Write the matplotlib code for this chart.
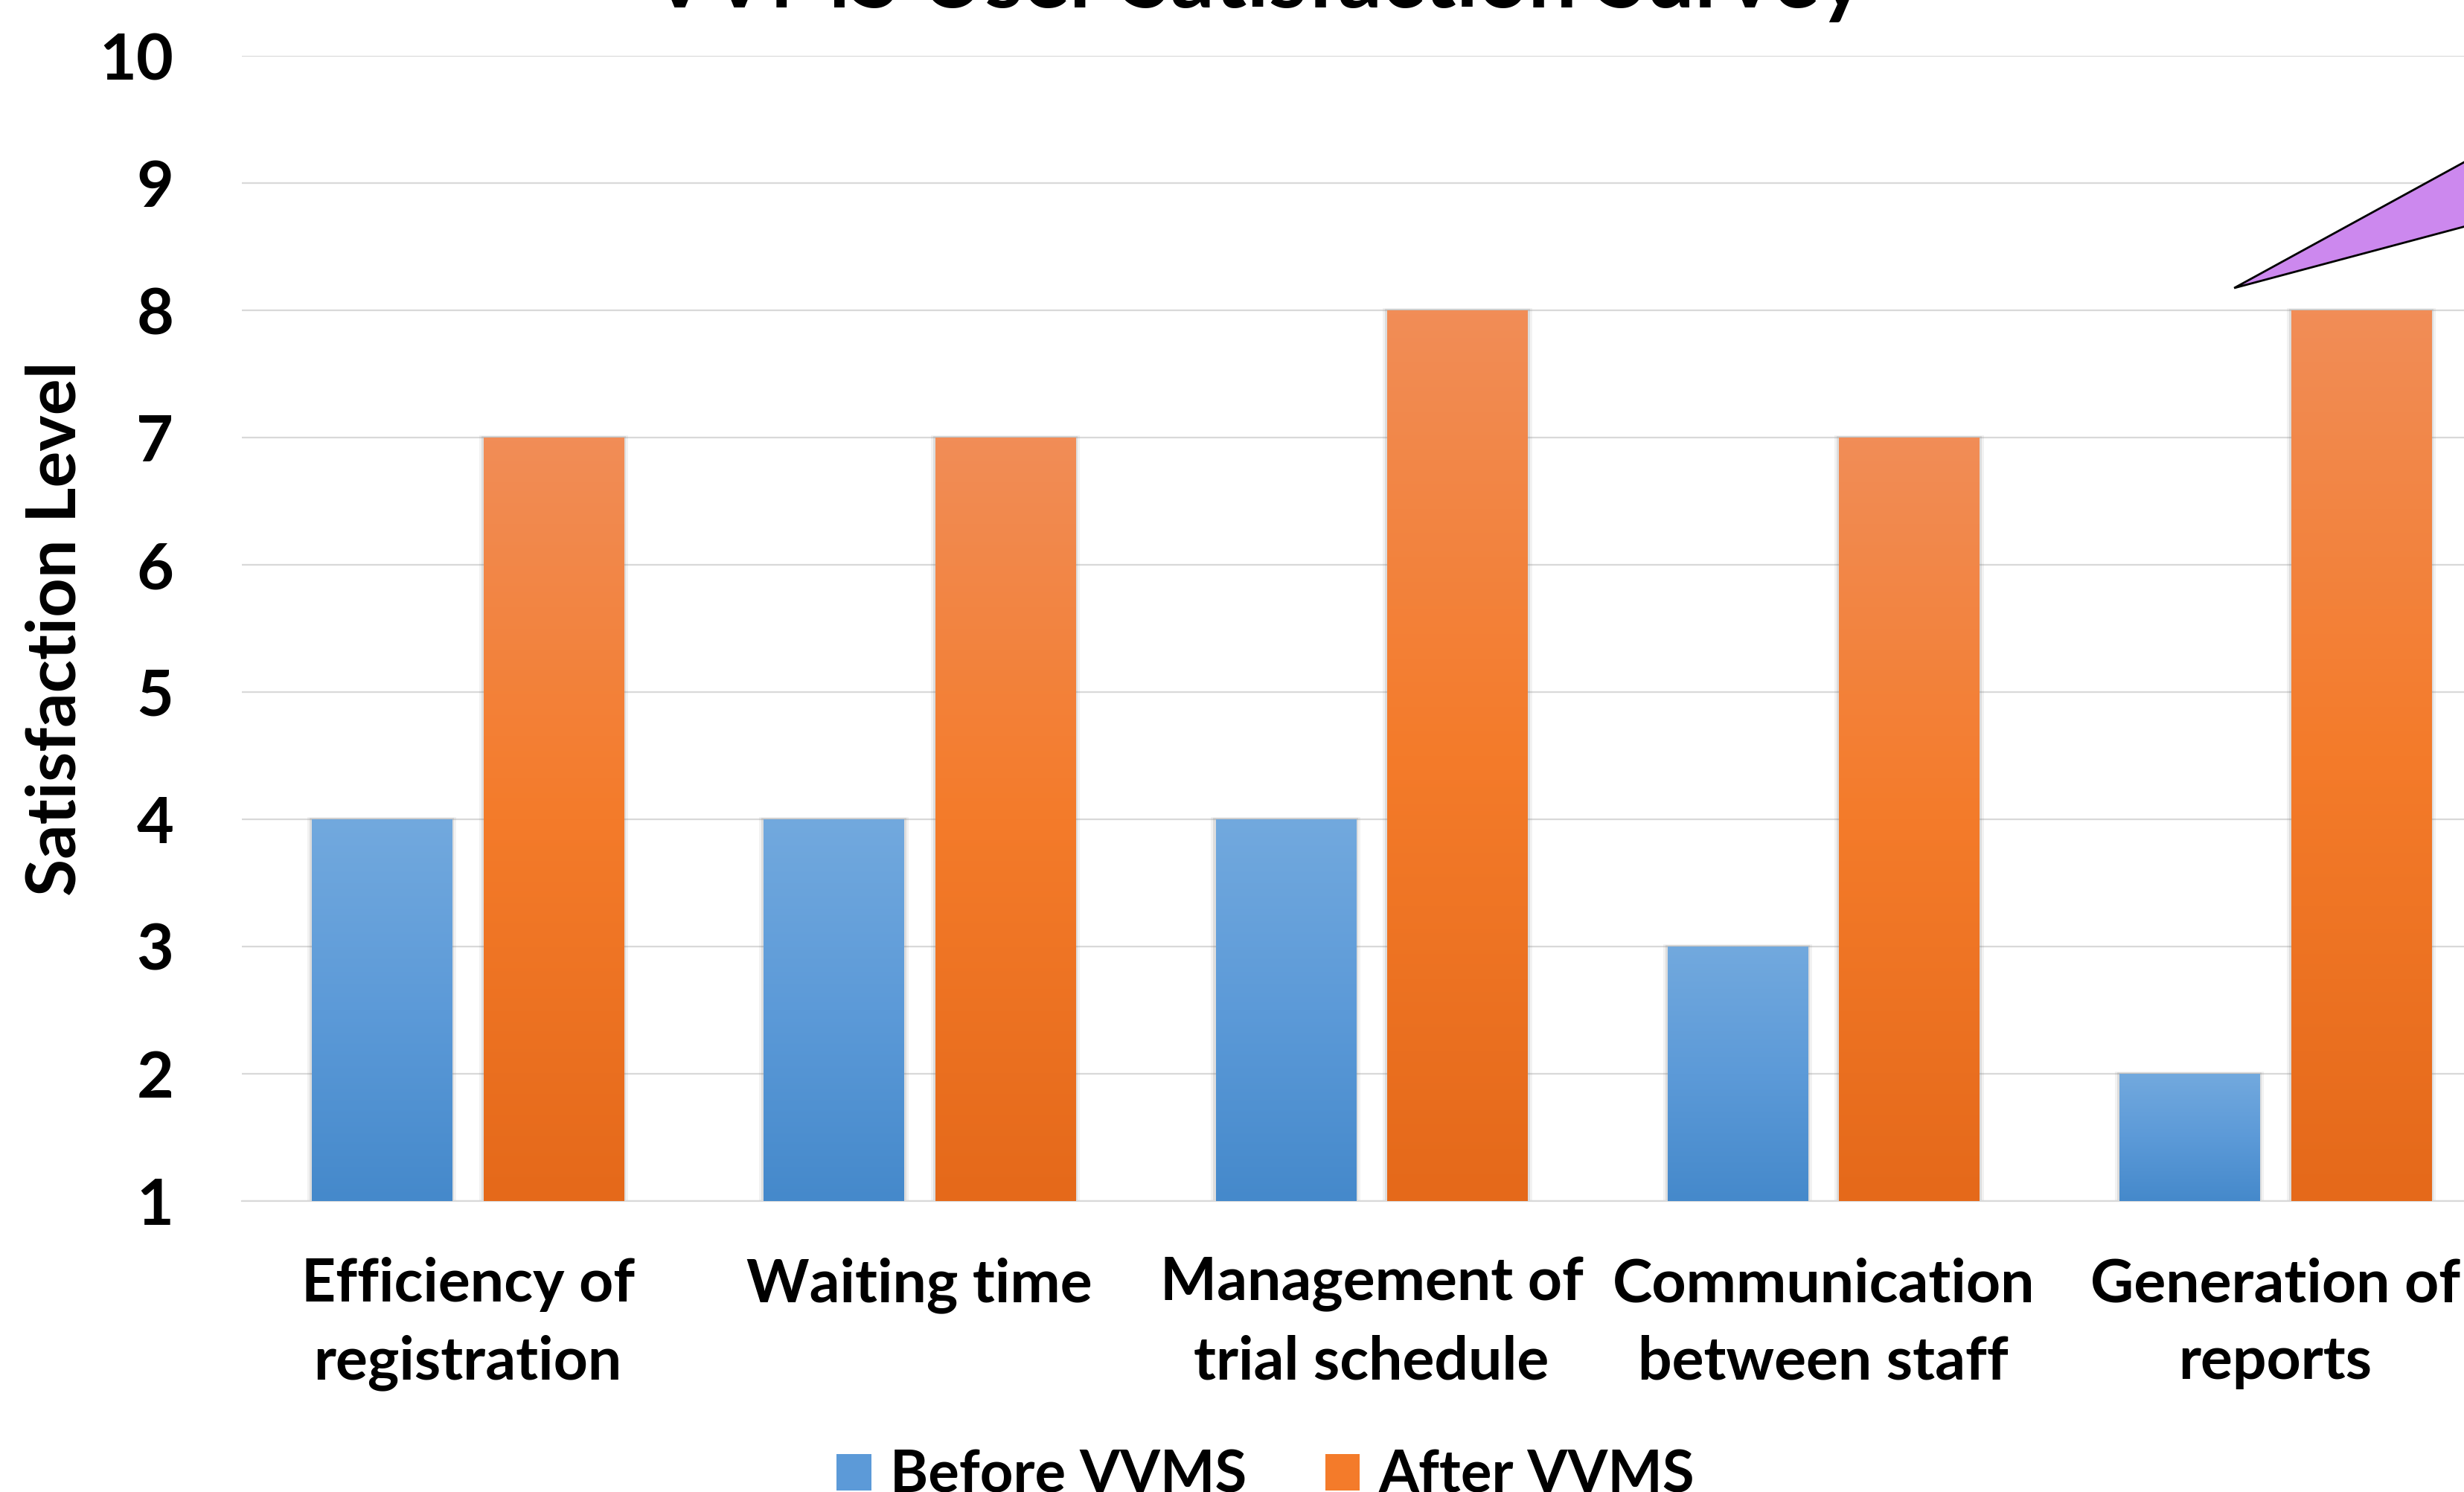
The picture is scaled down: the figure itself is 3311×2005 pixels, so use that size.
import numpy as np
import matplotlib
matplotlib.use("Agg")
import matplotlib.pyplot as plt
from matplotlib.colors import LinearSegmentedColormap
from matplotlib.patches import Patch, Rectangle, Polygon

plt.rcParams['font.family'] = ['Lato', 'DejaVu Sans']
plt.rcParams['font.weight'] = 'bold'

categories = ['Efficiency of\nregistration', 'Waiting time', 'Management of\ntrial schedule',
              'Communication\nbetween staff', 'Generation of\nreports']
before = [4, 4, 4, 3, 2]
after = [7, 7, 8, 7, 8]
series = ['Before VVMS', 'After VVMS']
title = 'VVMS User Satisfaction Survey'
ylabel = 'Satisfaction Level'
ymin, ymax = 1, 10

blue = ['#4589cb', '#5c9ad8', '#72a9de']
orange = ['#e5691a', '#f47b2a', '#f18d57']

fig = plt.figure(figsize=(16.56, 10.025), dpi=200)
ax = fig.add_axes([325/3312, 1 - 1614/2005, 3036/3312, (1614 - 75)/2005])

x = np.arange(len(categories))
w = 0.31
b1 = ax.bar(x - 0.19, np.array(before) - ymin, bottom=ymin, width=w, zorder=3)
b2 = ax.bar(x + 0.19, np.array(after) - ymin, bottom=ymin, width=w, zorder=3)

grad = np.linspace(0, 1, 256).reshape(-1, 1)
for bars, cols in [(b1, blue), (b2, orange)]:
    cmap = LinearSegmentedColormap.from_list('g', cols)
    for b in bars:
        x0, y0 = b.get_x(), b.get_y()
        bw, bh = b.get_width(), b.get_height()
        # soft shadow
        for k, a in [(0.010, 0.10), (0.005, 0.18)]:
            ax.add_patch(Rectangle((x0 - k, y0), bw + 2 * k, bh + k * 2, facecolor='#808080',
                                   edgecolor='none', alpha=a, zorder=2))
        ax.imshow(grad, extent=(x0, x0 + bw, y0, y0 + bh), origin='lower', cmap=cmap,
                  aspect='auto', zorder=3)
        b.set_facecolor('none')

ax.set_xlim(-0.5, len(categories) - 0.5)
ax.set_ylim(ymin, ymax)
ax.set_yticks(range(ymin, ymax + 1))
ax.set_xticks(x)
ax.set_xticklabels(categories, fontsize=29, linespacing=1.5)
ax.tick_params(axis='x', length=0, pad=27)
ax.tick_params(axis='y', length=0, pad=33, labelsize=31)
ax.yaxis.grid(True, color='#d9d9d9', lw=0.8)
ax.set_axisbelow(True)
for s in ['top', 'right', 'left']:
    ax.spines[s].set_visible(False)
ax.spines['bottom'].set_color('#d9d9d9')
ax.spines['bottom'].set_linewidth(0.8)

# callout pointer (body lies outside the picture)
ax.add_patch(Polygon([(3.909, 8.175), (4.6, 9.518), (4.6, 8.83)], closed=True,
                     facecolor='#cc88ee', edgecolor='black', lw=1.0, zorder=5, clip_on=False))

fig.text(76/3312, 1 - 845/2005, ylabel, rotation=90, ha='center', va='center', fontsize=33)
fig.text(1690/3312, 1 - 10/2005, title, ha='center', va='baseline', fontsize=42)

handles = [Patch(facecolor=blue[1], label=series[0]), Patch(facecolor=orange[1], label=series[1])]
fig.legend(handles=handles, loc='upper left', bbox_to_anchor=(1124/3312, 1 - 1948/2005),
           ncol=2, frameon=False, fontsize=28, borderpad=0, borderaxespad=0,
           handlelength=0.6, handleheight=0.6, handletextpad=0.33, columnspacing=1.35)

fig.savefig('out.png', dpi=200)
